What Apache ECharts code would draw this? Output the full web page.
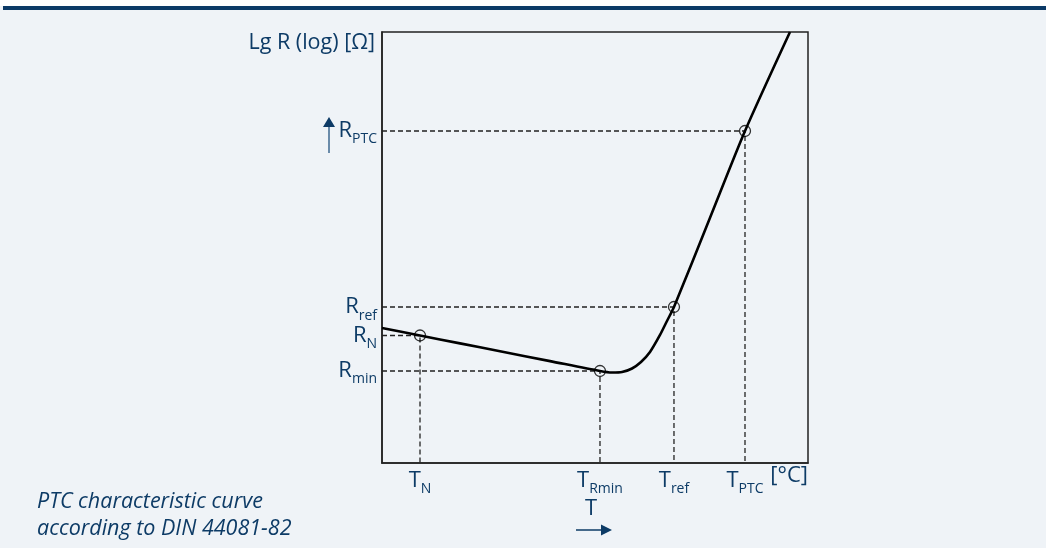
<!DOCTYPE html>
<html>
<head>
<meta charset="utf-8">
<script src="https://cdn.jsdelivr.net/npm/echarts@6/dist/echarts.min.js"></script>
<style>
  html, body { margin: 0; padding: 0; background: #eff3f7; }
  #chart { width: 1046px; height: 548px; }
</style>
</head>
<body>
<div id="chart"></div>
<script>
// characteristic points (axis units 0..100, no real scale on a log sketch)
var tempSubs = ["N", "Rmin", "ref", "PTC"];
var resSubs = ["N", "min", "ref", "PTC"];
var tempValues = [8.92, 51.17, 68.54, 85.21];
var resValues = [29.58, 21.35, 36.19, 77.03];

// curve shape
var curveT = [0, 8.92, 18.31, 27.7, 39.44, 51.17, 53.99, 56.34, 58.69, 60.8, 62.91, 65.26, 66.9, 68.54, 77.0, 85.21, 95.77];
var curveR = [31.32, 29.58, 27.75, 25.92, 23.64, 21.35, 21.0, 21.11, 21.93, 23.43, 25.75, 29.7, 32.95, 36.19, 56.9, 77.03, 100];

var navy = "#0d3b66";
var fontFam = "'Open Sans', 'Noto Sans', sans-serif";

var chart = echarts.init(document.getElementById("chart"));

var curveData = curveT.map(function (t, i) { return [t, curveR[i]]; });

var series = [];
// dashed guide lines: from the R axis to the point, then down to the T axis
tempValues.forEach(function (t, i) {
  series.push({
    type: "line",
    data: [[0, resValues[i]], [t, resValues[i]], [t, 0]],
    showSymbol: false,
    silent: true,
    lineStyle: { color: "#222", width: 1.3, type: [5, 3] },
    z: 1
  });
});
series.push({
  name: "curve",
  type: "line",
  data: curveData,
  smooth: 0.25,
  showSymbol: false,
  lineStyle: { color: "#000", width: 2.6 },
  z: 3
});
series.push({
  type: "scatter",
  data: tempValues.map(function (t, i) { return [t, resValues[i]]; }),
  symbol: "circle",
  symbolSize: 11,
  itemStyle: { color: "rgba(0,0,0,0)", borderColor: "#000", borderWidth: 1.3 },
  z: 4
});

var richLabel = {
  m: { fontSize: 22, color: navy, fontFamily: fontFam },
  s: { fontSize: 14, color: navy, fontFamily: fontFam, padding: [17, 0, 0, 0] }
};

var option = {
  backgroundColor: "#eff3f7",
  animation: false,
  title: {
    text: "PTC characteristic curve\naccording to DIN 44081-82",
    left: 32,
    top: 483,
    textStyle: {
      color: navy,
      fontFamily: fontFam,
      fontStyle: "italic",
      fontWeight: "normal",
      fontSize: 21.5,
      lineHeight: 27
    }
  },
  grid: {
    left: 382, top: 32, width: 426, height: 431,
    show: true, borderColor: "#222", borderWidth: 1.5,
    backgroundColor: "transparent"
  },
  xAxis: {
    type: "value", min: 0, max: 100,
    splitLine: { show: false },
    axisTick: { show: false },
    axisLine: { show: true, lineStyle: { color: "#222", width: 1.5 } },
    axisLabel: {
      customValues: tempValues,
      margin: 2,
      formatter: function (v) {
        var i = tempValues.indexOf(v);
        return "{m|T}{s|" + tempSubs[i] + "}";
      },
      rich: richLabel
    },
    name: "[°C]",
    nameLocation: "end",
    nameGap: 0,
    nameTextStyle: {
      color: navy, fontFamily: fontFam, fontSize: 22,
      align: "right", verticalAlign: "top", padding: [2, 0, 0, 0]
    }
  },
  yAxis: {
    type: "value", min: 0, max: 100,
    splitLine: { show: false },
    axisTick: { show: false },
    axisLine: { show: true, lineStyle: { color: "#222", width: 1.5 } },
    axisLabel: {
      customValues: resValues,
      margin: 5,
      formatter: function (v) {
        var i = resValues.indexOf(v);
        return "{m|R}{s|" + resSubs[i] + "}";
      },
      rich: richLabel
    },
    name: "Lg R (log) [Ω]",
    nameLocation: "end",
    nameGap: 0,
    nameTextStyle: {
      color: navy, fontFamily: fontFam, fontSize: 21.5,
      align: "right", verticalAlign: "top", padding: [0, 7, 0, 0]
    }
  },
  graphic: [
    // top rule
    { type: "rect", shape: { x: 0, y: 0, width: 1046, height: 6 }, style: { fill: "#ffffff" } },
    { type: "rect", shape: { x: 3, y: 6, width: 1043, height: 4 }, style: { fill: "#0b3a66" } },
    // up arrow beside R_PTC
    { type: "line", shape: { x1: 329, y1: 153, x2: 329, y2: 124 }, style: { stroke: "#3e6890", lineWidth: 1.5 } },
    { type: "polygon", shape: { points: [[323, 127], [335, 127], [329, 117]] }, style: { fill: navy } },
    // T with right arrow under the axis
    { type: "text", left: 585, top: 498, style: { text: "T", fill: navy, font: "22px " + fontFam } },
    { type: "line", shape: { x1: 576, y1: 530, x2: 604, y2: 530 }, style: { stroke: navy, lineWidth: 1.5 } },
    { type: "polygon", shape: { points: [[601, 524.5], [601, 535.5], [612, 530]] }, style: { fill: navy } }
  ],
  series: series
};

chart.setOption(option);
</script>
</body>
</html>
